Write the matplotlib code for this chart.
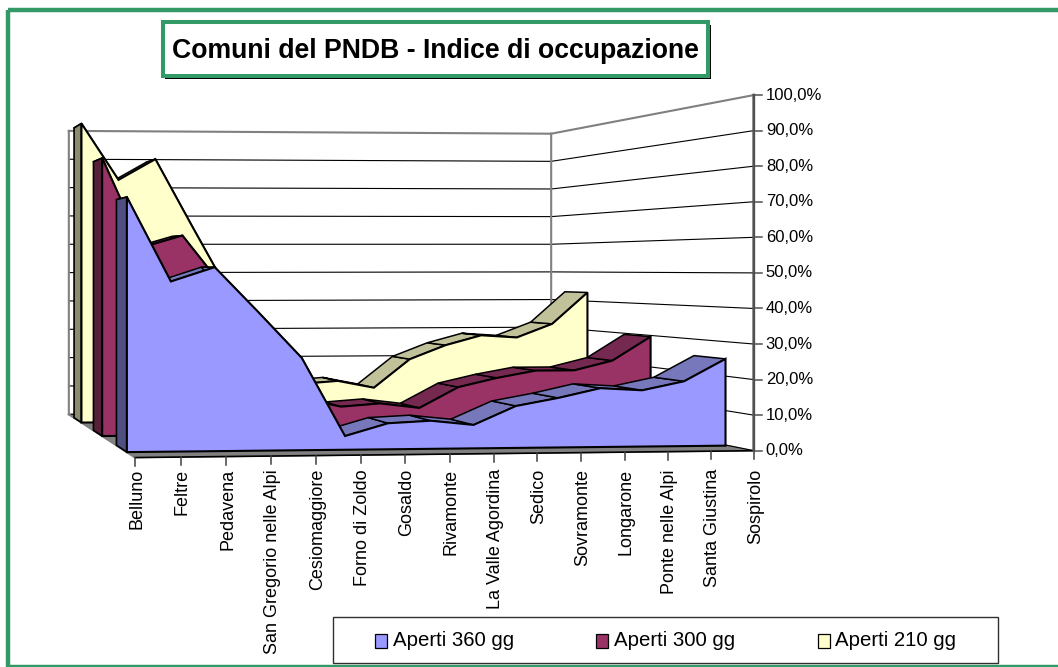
import matplotlib
matplotlib.use("Agg")
import matplotlib.pyplot as plt
from matplotlib.patches import Polygon, Rectangle
import numpy as np

plt.rcParams["font.family"] = ["Liberation Sans", "DejaVu Sans"]

# Data
comuni = ["Belluno", "Feltre", "Pedavena", "San Gregorio nelle Alpi", "Cesiomaggiore",
          "Forno di Zoldo", "Gosaldo", "Rivamonte", "La Valle Agordina", "Sedico",
          "Sovramonte", "Longarone", "Ponte nelle Alpi", "Santa Giustina", "Sospirolo"]
aperti_360 = [71.5, 47.8, 51.8, 39.1, 26.1, 3.9, 7.4, 8.0, 6.7, 12.0, 14.2, 16.9, 16.2, 18.7, 25.1]
aperti_300 = [85.4, 58.0, 61.6, 46.0, 22.0, 11.0, 8.4, 9.3, 7.8, 14.2, 17.0, 19.2, 19.2, 22.2, 29.7]
aperti_210 = [99.9, 81.1, 88.1, 65.6, 43.5, 25.0, 12.4, 13.3, 10.9, 20.5, 25.2, 28.5, 27.7, 32.3, 43.0]
nomi_serie = ["Aperti 360 gg", "Aperti 300 gg", "Aperti 210 gg"]
tick_percento = [0, 10, 20, 30, 40, 50, 60, 70, 80, 90, 100]

W, H = 1058, 667
GREEN = "#339966"
colori = ["#9999FF", "#993366", "#FFFFCC"]
colori_top = ["#7777BB", "#752850", "#C2C29A"]
colori_lato = ["#4F4F81", "#561F3A", "#8C8C70"]

fig = plt.figure(figsize=(W / 100, H / 100), dpi=100)
ax = fig.add_axes([0, 0, 1, 1])
ax.set_xlim(0, W)
ax.set_ylim(H, 0)
ax.axis("off")

# Perspective of the 3D box, fitted on the 8 corners of the chart box
# (category, depth, percent) -> picture pixel
box = [((0, 0, 0), (135, 457)), ((14, 0, 0), (754, 450.5)),
       ((14, 3, 0), (551, 410)), ((0, 3, 0), (69, 415)),
       ((0, 0, 100), (135, 91)), ((14, 0, 100), (754, 95)),
       ((14, 3, 100), (551, 134)), ((0, 3, 100), (69, 130))]
A, b = [], []
for (u, d, v), (px, py) in box:
    A.append([u, d, v, 1, 0, 0, 0, 0, -px * u, -px * d, -px * v])
    A.append([0, 0, 0, 0, u, d, v, 1, -py * u, -py * d, -py * v])
    b += [px, py]
P = np.append(np.linalg.lstsq(np.array(A, float), np.array(b, float), rcond=None)[0], 1).reshape(3, 4)


def proj(u, d, v):
    q = P @ np.array([u, d, v, 1.0])
    return q[0] / q[2], q[1] / q[2]


n = len(comuni)
su = 0.995  # areas stop just short of the right wall

# floor
ax.add_patch(Polygon([proj(0, 0, 0), proj(n - 1, 0, 0), proj(n - 1, 3, 0), proj(0, 3, 0)],
                     fc="#808080", ec="#808080", lw=1, zorder=1))

# walls and gridlines
for t in tick_percento:
    c = "#808080" if t == 100 else "black"
    lw = 1.5 if t == 100 else 0.8
    ax.plot(*zip(proj(0, 3, t), proj(n - 1, 3, t), proj(n - 1, 0, t)), color=c, lw=lw, zorder=2)
ax.plot(*zip(proj(0, 3, 0), proj(0, 3, 100)), color="#808080", lw=1.5, zorder=2)
ax.plot(*zip(proj(n - 1, 3, 0), proj(n - 1, 3, 100)), color="#808080", lw=1.5, zorder=2)
ax.plot(*zip(proj(0, 3, 0), proj(0, 0, 0)), color="#808080", lw=1.5, zorder=2)

# series, back to front
serie = [aperti_360, aperti_300, aperti_210]
z = 3
for k in [2, 1, 0]:
    vals = serie[k]
    d0, d1 = k + 0.3, k + 0.7
    for i in range(n - 1):
        quad = [proj(i * su, d0, vals[i]), proj((i + 1) * su, d0, vals[i + 1]),
                proj((i + 1) * su, d1, vals[i + 1]), proj(i * su, d1, vals[i])]
        ax.add_patch(Polygon(quad, fc=colori_top[k], ec="black", lw=1.1, zorder=z))
    z += 1
    ax.add_patch(Polygon([proj(0, d0, 0), proj(0, d1, 0), proj(0, d1, vals[0]), proj(0, d0, vals[0])],
                         fc=colori_lato[k], ec="black", lw=1.2, zorder=z))
    front = [proj(i * su, d0, vals[i]) for i in range(n)]
    ax.add_patch(Polygon([proj(0, d0, 0)] + front + [proj((n - 1) * su, d0, 0)],
                         fc=colori[k], ec="black", lw=1.5, zorder=z))
    z += 1

# front edge of the floor
ax.plot(*zip(proj(0, 0, 0), proj(n - 1, 0, 0)), color="black", lw=1.2, zorder=z)

# category ticks and labels
for i, nome in enumerate(comuni):
    x, y = proj(i, 0, 0)
    ax.plot([x, x], [y, y + 8], color="#404040", lw=1.1, zorder=z)
    ax.text(x + 1.5, 469, nome, rotation=90, ha="center", va="top", fontsize=13, color="black")

# right axis
ax.plot(*zip(proj(n - 1, 0, 0), proj(n - 1, 0, 100)), color="#505050", lw=2, zorder=z)
for t in tick_percento:
    x, y = proj(n - 1, 0, t)
    ax.plot([x, x + 8], [y, y], color="#505050", lw=1.1, zorder=z)
    ax.text(x + 12, y, f"{t},0%", ha="left", va="center", fontsize=12, color="black")

# outer frame, it runs off the right side of the picture
ax.add_patch(Rectangle((7.7, 9.7), W + 20, 657, fc="none", ec=GREEN, lw=3.2, zorder=z))

# title box
ax.add_patch(Rectangle((165, 25), 546, 54, fc="black", ec="none", zorder=z))
ax.add_patch(Rectangle((163, 22), 545, 54, fc="white", ec=GREEN, lw=2.9, zorder=z + 1))
ax.text(435, 51.5, "Comuni del PNDB - Indice di occupazione", ha="center", va="center",
        fontsize=19.2, fontweight="bold", zorder=z + 2)

# legend
ax.add_patch(Rectangle((332.5, 617), 665, 46, fc="white", ec="#303030", lw=1, zorder=z))
for k, (sx, tx) in enumerate([(375, 393), (596, 614), (818, 835)]):
    ax.add_patch(Rectangle((sx, 634), 12, 14, fc=colori[k], ec="black", lw=0.9, zorder=z + 1))
    ax.text(tx, 641, nomi_serie[k], ha="left", va="center", fontsize=14.7, zorder=z + 1)

fig.savefig("out.png", dpi=100)
